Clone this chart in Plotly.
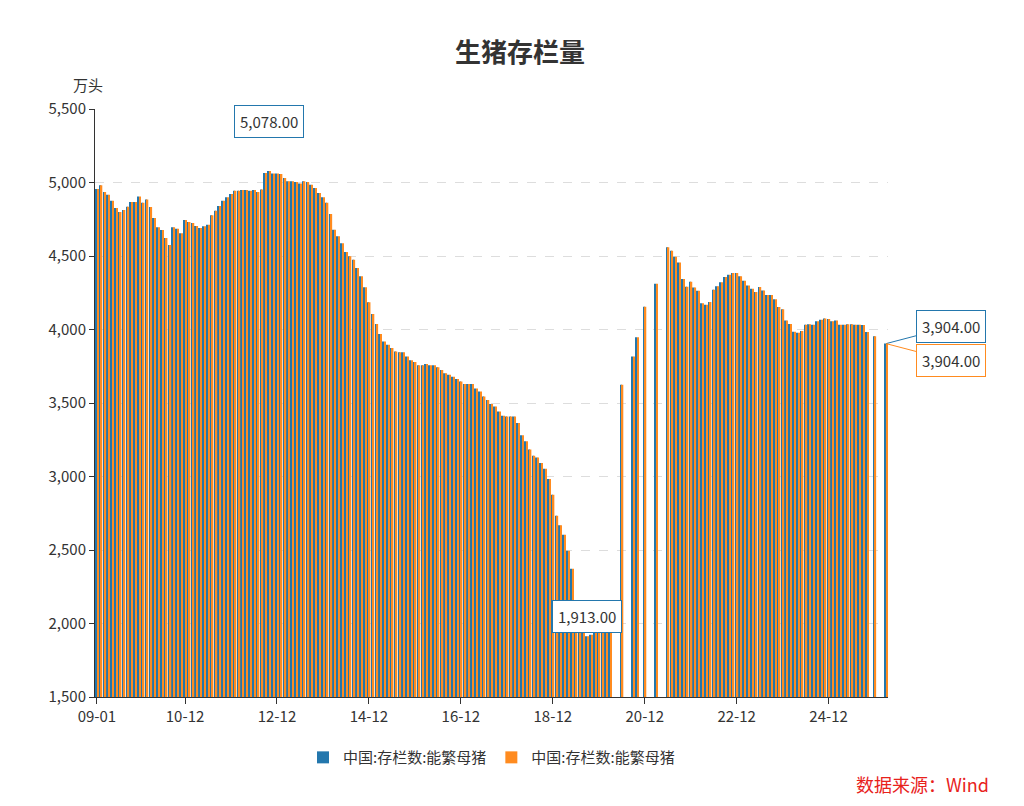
import plotly.graph_objects as go
import pandas as pd

months = pd.date_range("2009-01-01", periods=207, freq="MS")
categories = [d.strftime("%y-%m") for d in months]

part_a = [4956, 4981, 4935, 4917, 4876, 4826, 4799, 4813, 4835, 4867, 4867, 4904, 4863, 4885,
          4833, 4758, 4695, 4677, 4622, 4575, 4695, 4686, 4654, 4745, 4731, 4724, 4704, 4690,
          4702, 4713, 4777, 4808, 4840, 4876, 4899, 4922, 4944, 4944, 4949, 4949, 4944, 4949,
          4935, 4953, 5065, 5078, 5062, 5062, 5058, 5031, 5008, 5008, 5003, 4994, 5008, 5003,
          4985, 4962, 4928, 4899, 4863, 4786, 4679, 4634, 4586, 4527]
part_b = [4498, 4475, 4418, 4362, 4287, 4185, 4105, 4037, 3969, 3919, 3897, 3874, 3851, 3845,
          3845, 3817, 3790, 3779, 3756, 3756, 3765, 3756, 3756, 3743, 3724, 3702, 3693, 3679,
          3663, 3647, 3629, 3629, 3629, 3598, 3579, 3545, 3520, 3493, 3477, 3443, 3414, 3409,
          3409, 3409, 3364, 3280, 3239, 3183, 3142, 3130, 3092, 3053, 2983, 2876, 2733, 2668,
          2604, 2495, 2373]
part_c = [2150, 2040, 1950, 1913, 1924, 1969, 2000, 2000, 2000, 2010,
          None, None, 3624, None, None, 3817, 3947, None, 4155, None, None, 4312, None, None]
part_d = [4559, 4536, 4495, 4455, 4344, 4291, 4325, 4285, 4264, 4178, 4169, 4187, 4271, 4294,
          4321, 4357, 4373, 4384, 4384, 4362, 4332, 4300, 4278, 4255, 4289, 4266, 4235, 4235,
          4205, 4153, 4137, 4062, 4037, 3985, 3978, 3990, 4033, 4035, 4033, 4056, 4067, 4074,
          4071, 4056, 4062, 4033, 4033, 4035, 4035, 4033, 4033, 4031, 3983]
part_e = [None, 3954, None, None, 3904]
sows = part_a + part_b + part_c + part_d + part_e

tick_cats = ["09-01", "10-12", "12-12", "14-12", "16-12", "18-12", "20-12", "22-12", "24-12"]
series_names = ["中国:存栏数:能繁母猪", "中国:存栏数:能繁母猪"]
colors = ["#2377ad", "#ff8b1f"]

fig = go.Figure()
for name, c in zip(series_names, colors):
    fig.add_trace(go.Bar(x=categories, y=sows, name=name, marker=dict(color=c, line=dict(width=0)),
                         hovertemplate="%{x}: %{y:,.2f}<extra></extra>"))

def box(x, y, text, color, ax, ay, arrow=False):
    fig.add_annotation(x=x, y=y, text=text, showarrow=True, arrowhead=0, arrowwidth=1,
                       arrowcolor=color if arrow else "rgba(0,0,0,0)", ax=ax, ay=ay,
                       bordercolor=color, borderwidth=1, borderpad=5, bgcolor="white",
                       font=dict(size=15, color="#333"))

imax = sows.index(5078)
imin = sows.index(1913)
box(categories[imax], 5078, "5,078.00", "#2377ad", 0, -50)
box(categories[imin], 1913, "1,913.00", "#2377ad", 0, -20)
box(categories[-1], 3904, "3,904.00", "#2377ad", 65, -17, True)
box(categories[-1], 3904, "3,904.00", "#ff8b1f", 65, 17, True)

fig.update_layout(
    width=1024, height=806, plot_bgcolor="white", paper_bgcolor="white",
    margin=dict(l=87, r=144, t=101, b=117, autoexpand=False),
    font=dict(family="Noto Sans CJK SC, Noto Sans", size=15, color="#333"),
    title=dict(text="<b>生猪存栏量</b>", x=0.5, xanchor="center", y=0.955, font=dict(size=26, color="#333")),
    barmode="group", bargap=0.15, bargroupgap=0.1,
    showlegend=True,
    legend=dict(orientation="h", x=0.5, xanchor="center", y=-0.075, yanchor="top", font=dict(size=15)),
    xaxis=dict(type="category", range=[-0.5, 206.5], tickmode="array", tickvals=tick_cats,
               ticks="outside", ticklen=6, tickcolor="#333", automargin=False,
               showline=True, linecolor="#333", showgrid=False, tickfont=dict(size=15)),
    yaxis=dict(range=[1500, 5500], dtick=500, tickformat=",", showline=True, linecolor="#333",
               ticks="outside", ticklen=5, tickcolor="#333", automargin=False,
               gridcolor="#dddddd", griddash="dash", zeroline=False, tickfont=dict(size=15)),
)
fig.add_annotation(text="万头", xref="paper", yref="paper", x=-0.03, y=1.02, xanchor="left", yanchor="bottom",
                   showarrow=False, font=dict(size=15))
fig.add_annotation(text="数据来源：Wind", xref="paper", yref="paper", x=1.13, y=-0.148, xanchor="right", yanchor="middle",
                   showarrow=False, font=dict(size=18, color="#e8221c"))
fig.write_html("out.html")
